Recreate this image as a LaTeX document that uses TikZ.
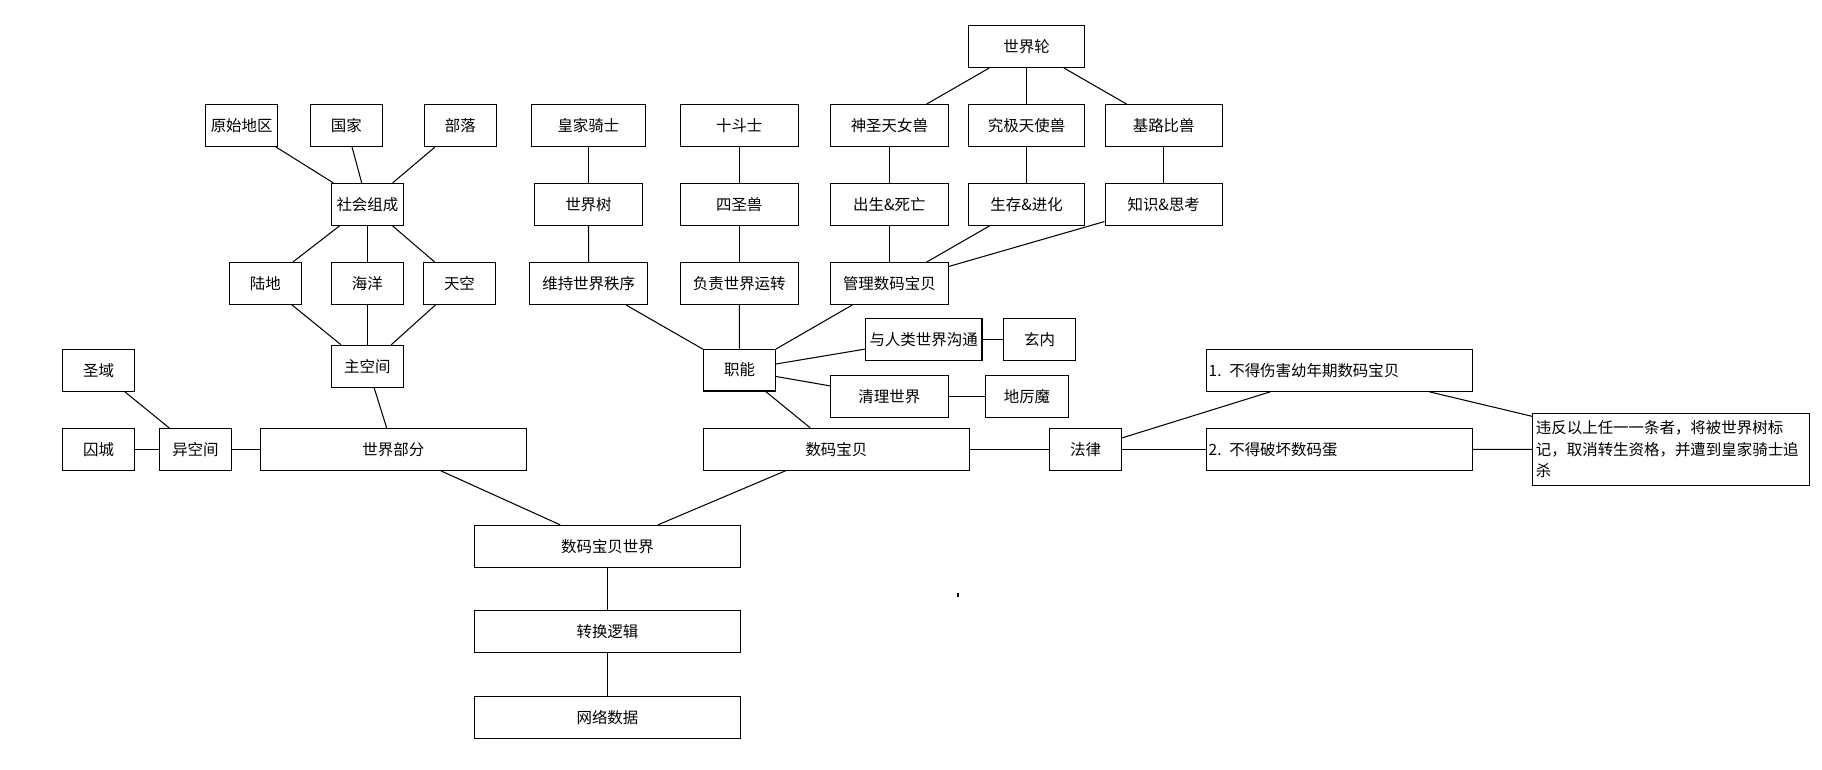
\documentclass[tikz,border=0pt]{standalone}
\usepackage{fontspec}
\newfontfamily\cjk{Noto Sans CJK SC}
\begin{document}
\begin{tikzpicture}[x=1pt, y=-1pt,
		box/.style={draw, line width=0.9pt, inner sep=0pt, minimum height=36pt, font=\cjk\fontsize{13.3}{16}\selectfont},
		wd/.style={minimum width=#1pt},
		leftbox/.style={box, align=left, inner xsep=#1pt},
		link/.style={line width=0.9pt}]
		\useasboundingbox (0,0) rectangle (1568,661.8);
		% top right: world wheel
		\node[box, wd=100] (wheel) at (883.5,40) {世界轮};
		\node[box, wd=101] (ofan) at (765.4,108) {神圣天女兽};
		\node[box, wd=100] (sera) at (883.5,108) {究极天使兽};
		\node[box, wd=101] (cheru) at (1001.5,108) {基路比兽};
		\node[box, wd=101] (birth) at (765.4,176) {出生\&死亡};
		\node[box, wd=100] (evo) at (883.5,176) {生存\&进化};
		\node[box, wd=101] (think) at (1001.5,176) {知识\&思考};
		\node[box, wd=101] (manage) at (765.4,244) {管理数码宝贝};
		% knights and warriors
		\node[box, wd=98] (royal) at (506.4,108) {皇家骑士};
		\node[box, wd=93] (ygg) at (506.4,176) {世界树};
		\node[box, wd=101.6] (order) at (506.6,244) {维持世界秩序};
		\node[box, wd=101.5] (ten) at (636.2,108) {十斗士};
		\node[box, wd=101.5] (four) at (636.2,176) {四圣兽};
		\node[box, wd=101.5] (run) at (636.2,244) {负责世界运转};
		\node[box, wd=61.6] (duty) at (636.4,318.5) {职能};
		\node[box, wd=100.4] (talk) at (794.9,292) {与人类世界沟通};
		\node[box, wd=62] (gennai) at (894.6,292) {玄内};
		\node[box, wd=101.5] (clean) at (765.4,341) {清理世界};
		\node[box, wd=71.2] (lord) at (883.8,341) {地厉魔};
		\node[box, wd=228.4] (digi) at (719.8,386.6) {数码宝贝};
		% law
		\node[box, wd=62] (law) at (934.2,386.6) {法律};
		\node[leftbox=2, text width=225pt] (rulea) at (1152.7,318.7) {1. 不得伤害幼年期数码宝贝};
		\node[leftbox=2, text width=225pt] (ruleb) at (1152.7,386.6) {2. 不得破坏数码蛋};
		\node[leftbox=3, text width=232.6pt, minimum height=62pt, font=\cjk\fontsize{13.3}{18.7}\selectfont] (warn) at (1438.1,386.7)
			{违反以上任一一条者，将被世界树标\\记，取消转生资格，并遭到皇家骑士追\\杀};
		% bottom chain
		\node[box, wd=229] (world) at (522.8,470.1) {数码宝贝世界};
		\node[box, wd=229] (logic) at (522.8,543.3) {转换逻辑};
		\node[box, wd=229] (data) at (522.8,617.3) {网络数据};
		% left: world parts
		\node[box, wd=228.8] (part) at (338.5,386.7) {世界部分};
		\node[box, wd=62] (other) at (168.2,386.7) {异空间};
		\node[box, wd=62] (prison) at (84.8,386.7) {囚城};
		\node[box, wd=62] (holy) at (84.8,318.7) {圣域};
		\node[box, wd=62] (mainsp) at (316.2,315.2) {主空间};
		\node[box, wd=62] (land) at (228.4,243.8) {陆地};
		\node[box, wd=62] (sea) at (316.2,243.8) {海洋};
		\node[box, wd=62] (sky) at (395.4,243.8) {天空};
		\node[box, wd=62] (society) at (316.2,175.8) {社会组成};
		\node[box, wd=62] (prim) at (208,108) {原始地区};
		\node[box, wd=62] (nation) at (298,108) {国家};
		\node[box, wd=62] (tribe) at (396.2,108) {部落};
		\foreach \a/\b in {wheel/ofan, wheel/sera, wheel/cheru, ofan/birth, sera/evo, cheru/think,
				birth/manage, evo/manage, think/manage, royal/ygg, ygg/order, ten/four, four/run,
				order/duty, run/duty, manage/duty, duty/talk, talk/gennai, duty/clean, clean/lord,
				duty/digi, digi/law, law/rulea, law/ruleb, rulea/warn, ruleb/warn,
				digi/world, part/world, world/logic, logic/data,
				prison/other, holy/other, other/part, mainsp/part,
				land/mainsp, sea/mainsp, sky/mainsp, society/land, society/sea, society/sky,
				prim/society, nation/society, tribe/society}
			\draw[link] (\a) -- (\b);
		\fill (824,510.5) rectangle (825.2,513.5);
	\end{tikzpicture}
\end{document}
